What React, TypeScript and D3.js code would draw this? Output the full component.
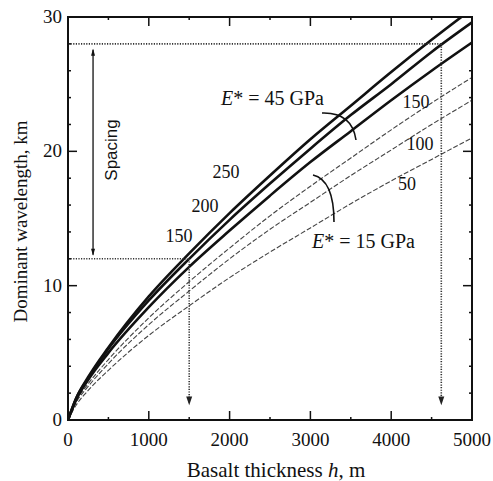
import React, { useEffect, useRef } from 'react';
import * as d3 from 'd3';

// basalt thickness h (m) at which each curve was read
const thickness = [0, 100, 250, 500, 1000, 1500, 2000, 2500, 3000, 3500, 4000, 4500, 5000];

// E* = 45 GPa (solid)
const solid250 = [0, 1.6, 3.2, 5.4, 9.2, 12.4, 15.4, 18.2, 20.9, 23.4, 25.9, 28.3, 30.6];
const solid200 = [0, 1.6, 3.1, 5.3, 8.9, 12.0, 14.9, 17.6, 20.2, 22.7, 25.0, 27.4, 29.6];
const solid150 = [0, 1.5, 3.0, 5.0, 8.4, 11.4, 14.1, 16.7, 19.2, 21.5, 23.8, 26.0, 28.1];
// E* = 15 GPa (dashed)
const dashed150 = [0, 1.4, 2.7, 4.5, 7.6, 10.3, 12.8, 15.2, 17.4, 19.5, 21.6, 23.6, 25.5];
const dashed100 = [0, 1.3, 2.5, 4.2, 7.1, 9.6, 12.0, 14.2, 16.2, 18.2, 20.1, 22.0, 23.8];
const dashed50 = [0, 1.1, 2.2, 3.7, 6.3, 8.5, 10.6, 12.5, 14.3, 16.1, 17.8, 19.4, 21.0];

const xTicks = [0, 1000, 2000, 3000, 4000, 5000];
const yTicks = [0, 10, 20, 30];

// spacing example: [h, lambda]
const example1 = [1500, 12];
const example2 = [4620, 28];

export default function App() {
  const svgRef = useRef<SVGSVGElement>(null);

  useEffect(() => {
    const svg = d3.select(svgRef.current);
    svg.selectAll('*').remove();

    const m = { l: 68, r: 21, t: 17, b: 61 };
    const W = 493, H = 481;
    const x = d3.scaleLinear().domain([0, 5000]).range([m.l, W - m.r]);
    const y = d3.scaleLinear().domain([0, 30]).range([H - m.b, m.t]);
    const serif = 'Liberation Serif, Times New Roman, serif';

    svg.append('defs').append('clipPath').attr('id', 'plot')
      .append('rect').attr('x', x(0)).attr('y', y(30))
      .attr('width', x(5000) - x(0)).attr('height', y(0) - y(30));

    const line = (vals: number[]) =>
      d3.line<number>().x((d, i) => x(thickness[i])).y(d => y(d)).curve(d3.curveMonotoneX)(vals);

    const plot = svg.append('g').attr('clip-path', 'url(#plot)');

    [dashed150, dashed100, dashed50].forEach(v => {
      plot.append('path').attr('d', line(v)).attr('fill', 'none')
        .attr('stroke', '#444').attr('stroke-width', 1.1).attr('stroke-dasharray', '5,2');
    });
    [solid250, solid200, solid150].forEach(v => {
      plot.append('path').attr('d', line(v)).attr('fill', 'none')
        .attr('stroke', '#111').attr('stroke-width', 2.6);
    });

    // dotted guides
    const dot = (x1, y1, x2, y2) => svg.append('line')
      .attr('x1', x1).attr('y1', y1).attr('x2', x2).attr('y2', y2)
      .attr('stroke', '#333').attr('stroke-width', 1.6).attr('stroke-dasharray', '1.2,1.4');
    [example1, example2].forEach(([h, l]) => {
      dot(x(0), y(l), x(h), y(l));
      dot(x(h), y(l), x(h), y(1.3));
      svg.append('path')
        .attr('d', `M${x(h) - 3},${y(1.3) - 6} L${x(h) + 3},${y(1.3) - 6} L${x(h)},${y(1.1)} Z`)
        .attr('fill', '#222');
    });

    // spacing arrow
    const sx = x(310);
    svg.append('line').attr('x1', sx).attr('x2', sx)
      .attr('y1', y(example2[1]) + 6).attr('y2', y(example1[1]) - 4)
      .attr('stroke', '#111').attr('stroke-width', 1.3);
    svg.append('path').attr('d', `M${sx - 2},${y(example2[1]) + 12} L${sx + 2},${y(example2[1]) + 12} L${sx},${y(example2[1]) + 5} Z`).attr('fill', '#111');
    svg.append('path').attr('d', `M${sx - 2},${y(example1[1]) - 10} L${sx + 2},${y(example1[1]) - 10} L${sx},${y(example1[1]) - 3} Z`).attr('fill', '#111');
    svg.append('text').attr('transform', `translate(${sx + 24},${y(20.1)}) rotate(-90)`)
      .attr('text-anchor', 'middle').attr('font-family', 'Liberation Sans, Arial, sans-serif')
      .attr('font-size', 17).attr('fill', '#111').text('Spacing');

    // frame and ticks
    svg.append('rect').attr('x', x(0)).attr('y', y(30))
      .attr('width', x(5000) - x(0)).attr('height', y(0) - y(30))
      .attr('fill', 'none').attr('stroke', '#111').attr('stroke-width', 2);

    const tk = svg.append('g').attr('stroke', '#111').attr('stroke-width', 1.5);
    d3.range(500, 5000, 500).forEach(v => {
      const len = v % 1000 === 0 ? 9 : 3;
      tk.append('line').attr('x1', x(v)).attr('x2', x(v)).attr('y1', y(0)).attr('y2', y(0) - len);
      tk.append('line').attr('x1', x(v)).attr('x2', x(v)).attr('y1', y(30)).attr('y2', y(30) + len);
    });
    d3.range(2, 30, 2).forEach(v => {
      const len = v % 10 === 0 ? 9 : 3;
      tk.append('line').attr('y1', y(v)).attr('y2', y(v)).attr('x1', x(0)).attr('x2', x(0) + len);
      tk.append('line').attr('y1', y(v)).attr('y2', y(v)).attr('x1', x(5000)).attr('x2', x(5000) - len);
    });

    const txt = (tx, ty, s, anchor = 'middle', size = 18) => svg.append('text')
      .attr('x', tx).attr('y', ty).attr('text-anchor', anchor)
      .attr('font-family', serif).attr('font-size', size).attr('fill', '#111').text(s);

    xTicks.forEach(v => txt(x(v), y(0) + 26, String(v), 'middle', 19));
    yTicks.forEach(v => txt(x(0) - 6, y(v) + 6, String(v), 'end', 19));

    txt(276, 477, '', 'middle', 21).call(t => {
      t.append('tspan').text('Basalt thickness ');
      t.append('tspan').attr('font-style', 'italic').text('h');
      t.append('tspan').text(', m');
    });
    svg.append('text').attr('transform', `translate(27,${y(15) + 3}) rotate(-90)`)
      .attr('text-anchor', 'middle').attr('font-family', serif).attr('font-size', 19)
      .attr('fill', '#111').text('Dominant wavelength, km');

    // curve labels
    txt(226, 178, '250', 'middle', 18);
    txt(205, 212, '200', 'middle', 18);
    txt(179, 242, '150', 'middle', 18);
    txt(416, 108, '150', 'middle', 18);
    txt(420, 150, '100', 'middle', 18);
    txt(407, 190, '50', 'middle', 18);

    const eLabel = (tx, ty, gpa) => txt(tx, ty, '', 'start', 20).call(t => {
      t.append('tspan').attr('font-style', 'italic').text('E');
      t.append('tspan').text(`* = ${gpa} GPa`);
    });
    eLabel(221, 105, 45);
    eLabel(312, 248, 15);

    svg.append('path').attr('d', 'M322,113 Q352,112 356,140')
      .attr('fill', 'none').attr('stroke', '#111').attr('stroke-width', 1.6);
    svg.append('path').attr('d', 'M313,175 Q334,180 334,222')
      .attr('fill', 'none').attr('stroke', '#111').attr('stroke-width', 1.6);
  }, []);

  return (
    <svg ref={svgRef} width={493} height={481} viewBox="0 0 493 481"
      style={{ position: 'absolute', left: 0, top: 0, background: '#fff' }} />
  );
}
